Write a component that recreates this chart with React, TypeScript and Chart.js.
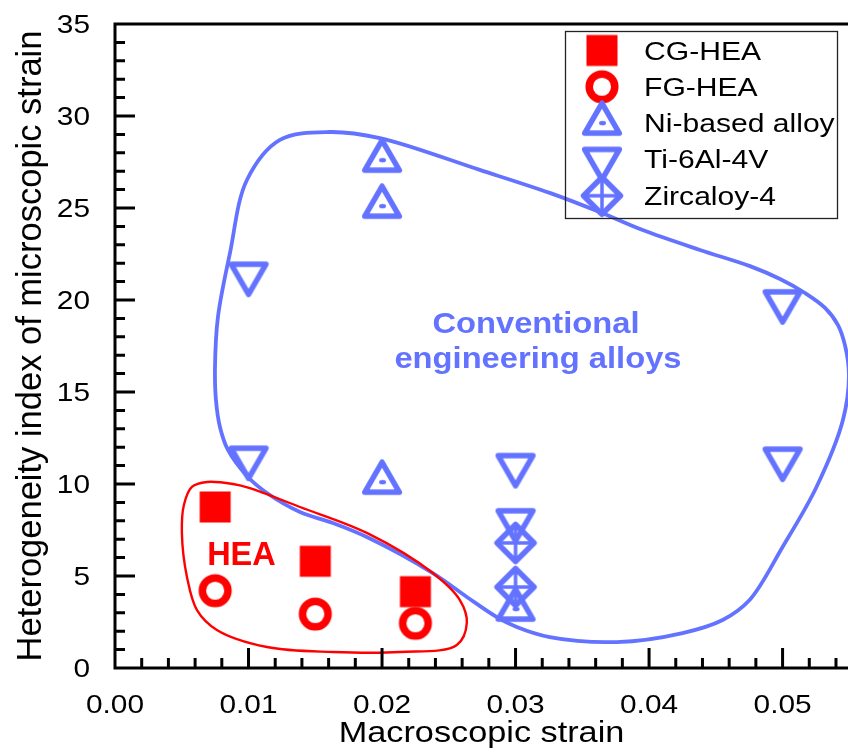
import React, { useEffect, useRef } from 'react';
import { Chart, registerables } from 'chart.js';

Chart.register(...registerables);

// ---------- data ----------
const seriesNames = ['CG-HEA', 'FG-HEA', 'Ni-based alloy', 'Ti-6Al-4V', 'Zircaloy-4'];

const cgX = [0.0075, 0.015, 0.0225];
const cgY = [8.75, 5.8, 4.15];

const fgX = [0.0075, 0.015, 0.0225];
const fgY = [4.2, 2.93, 2.43];

const niX = [0.02, 0.02, 0.02, 0.03];
const niY = [27.6, 25.1, 10.1, 3.2];

const tiX = [0.01, 0.01, 0.03, 0.03, 0.05, 0.05];
const tiY = [21.4, 11.4, 11.0, 8.0, 19.9, 11.35];

const zrX = [0.03, 0.03];
const zrY = [6.8, 4.4];

const xTickValues = [0, 0.01, 0.02, 0.03, 0.04, 0.05];
const xTickLabels = ['0.00', '0.01', '0.02', '0.03', '0.04', '0.05'];
const yTickValues = [0, 5, 10, 15, 20, 25, 30, 35];
const yTickLabels = ['0', '5', '10', '15', '20', '25', '30', '35'];
const xMinorStep = 0.002;
const yMinorStep = 1;

const xTitle = 'Macroscopic strain';
const yTitle = 'Heterogeneity index of microscopic strain';

// outlines of the two groups (data units)
const blueLoopX = [0.00996, 0.01138, 0.01385, 0.01632, 0.01886, 0.0238, 0.02635, 0.02859, 0.03009, 0.03256, 0.03757, 0.04251, 0.04551, 0.04753, 0.05, 0.05254, 0.05452, 0.05497, 0.05467, 0.05415, 0.05318, 0.05168, 0.04981, 0.04756, 0.04381, 0.03952, 0.0363, 0.03256, 0.02732, 0.01984, 0.01609, 0.01235, 0.00988, 0.00861, 0.00771, 0.00749, 0.00756, 0.00786, 0.00846];
const blueLoopY = [10.38, 9.51, 8.48, 7.88, 7.12, 5.16, 3.86, 2.77, 2.23, 1.68, 1.41, 1.9, 2.61, 3.7, 6.58, 9.84, 13.48, 15.92, 17.55, 18.64, 19.57, 20.38, 21.14, 21.84, 22.72, 23.8, 24.78, 25.82, 27.07, 28.8, 29.13, 28.7, 26.52, 22.55, 19.08, 16.36, 14.57, 13.1, 11.85];

const redLoopX = [0.00689, 0.00883, 0.0101, 0.01385, 0.01886, 0.0238, 0.02582, 0.02635, 0.0256, 0.02133, 0.01632, 0.01138, 0.00763, 0.00614, 0.00539, 0.00501, 0.00516, 0.00576];
const redLoopY = [10.11, 10.0, 9.78, 8.75, 7.34, 5.16, 3.7, 2.45, 1.25, 0.87, 0.87, 1.14, 2.07, 3.15, 4.95, 7.34, 8.86, 9.84];

const groupLabels = ['Conventional', 'engineering alloys', 'HEA'];
const groupLabelX = [0.03153, 0.03168, 0.00947];
const groupLabelY = [18.21, 16.29, 5.6];

// ---------- styles ----------
const RED = '#ff0000';
const BLUE = 'rgb(99,115,255)';
const FONT = '"Liberation Sans", Arial, Helvetica, sans-serif';

function makeMarker(draw: (ctx: CanvasRenderingContext2D) => void): HTMLCanvasElement {
  const c = document.createElement('canvas');
  c.width = 50;
  c.height = 50;
  const ctx = c.getContext('2d') as CanvasRenderingContext2D;
  ctx.translate(25, 25);
  draw(ctx);
  return c;
}

function triPath(ctx: CanvasRenderingContext2D, r: number, down: boolean) {
  const s = down ? -1 : 1;
  const w = r * Math.sin(Math.PI / 3);
  ctx.beginPath();
  ctx.moveTo(0, -r * s);
  ctx.lineTo(w, (r / 2) * s);
  ctx.lineTo(-w, (r / 2) * s);
  ctx.closePath();
}

function buildMarkers() {
  const square = makeMarker((ctx) => {
    ctx.fillStyle = RED;
    ctx.fillRect(-15.5, -15.5, 31, 31);
  });
  const circle = makeMarker((ctx) => {
    ctx.strokeStyle = RED;
    ctx.lineWidth = 7.5;
    ctx.beginPath();
    ctx.arc(0, 0, 12.8, 0, Math.PI * 2);
    ctx.stroke();
  });
  const triUp = makeMarker((ctx) => {
    ctx.strokeStyle = BLUE;
    ctx.fillStyle = BLUE;
    ctx.lineWidth = 5.5;
    ctx.lineJoin = 'round';
    triPath(ctx, 20, false);
    ctx.stroke();
    ctx.beginPath();
    ctx.ellipse(0.5, 0, 3.5, 2.2, 0, 0, Math.PI * 2);
    ctx.fill();
  });
  const triDown = makeMarker((ctx) => {
    ctx.strokeStyle = BLUE;
    ctx.lineWidth = 5.5;
    ctx.lineJoin = 'round';
    triPath(ctx, 20, true);
    ctx.stroke();
  });
  const diamond = makeMarker((ctx) => {
    const d = 18.5;
    ctx.strokeStyle = BLUE;
    ctx.lineJoin = 'round';
    ctx.lineWidth = 5.5;
    ctx.beginPath();
    ctx.moveTo(0, -d);
    ctx.lineTo(d, 0);
    ctx.lineTo(0, d);
    ctx.lineTo(-d, 0);
    ctx.closePath();
    ctx.stroke();
    ctx.lineWidth = 3.5;
    ctx.beginPath();
    ctx.moveTo(0, -d);
    ctx.lineTo(0, d);
    ctx.moveTo(-d, 0);
    ctx.lineTo(d, 0);
    ctx.stroke();
  });
  return [square, circle, triUp, triDown, diamond];
}

function pts(xs: number[], ys: number[]) {
  return xs.map((x, i) => ({ x, y: ys[i] }));
}

function drawText(
  ctx: CanvasRenderingContext2D,
  text: string,
  x: number,
  y: number,
  size: number,
  opts: { align?: CanvasTextAlign; sx?: number; bold?: boolean; color?: string } = {}
) {
  ctx.save();
  ctx.translate(x, y);
  ctx.scale(opts.sx ?? 1, 1);
  ctx.font = `${opts.bold ? 'bold ' : ''}${size}px ${FONT}`;
  ctx.fillStyle = opts.color ?? '#000';
  ctx.textAlign = opts.align ?? 'left';
  ctx.textBaseline = 'alphabetic';
  ctx.fillText(text, 0, 0);
  ctx.restore();
}

type P = { x: number; y: number };

// closed centripetal Catmull-Rom spline through the outline points
function drawLoop(ctx: CanvasRenderingContext2D, p: P[], color: string, width: number) {
  const n = p.length;
  const dist = (a: P, b: P) => Math.max(1e-6, Math.sqrt(Math.hypot(b.x - a.x, b.y - a.y)));
  ctx.save();
  ctx.strokeStyle = color;
  ctx.lineWidth = width;
  ctx.lineJoin = 'round';
  ctx.beginPath();
  ctx.moveTo(p[0].x, p[0].y);
  for (let i = 0; i < n; i++) {
    const p0 = p[(i - 1 + n) % n];
    const p1 = p[i];
    const p2 = p[(i + 1) % n];
    const p3 = p[(i + 2) % n];
    const d1 = dist(p0, p1);
    const d2 = dist(p1, p2);
    const d3 = dist(p2, p3);
    const a1 = 2 * d1 * d1 + 3 * d1 * d2 + d2 * d2;
    const b1 = 3 * d1 * (d1 + d2);
    const a2 = 2 * d3 * d3 + 3 * d3 * d2 + d2 * d2;
    const b2 = 3 * d3 * (d3 + d2);
    const c1x = (d1 * d1 * p2.x - d2 * d2 * p0.x + a1 * p1.x) / b1;
    const c1y = (d1 * d1 * p2.y - d2 * d2 * p0.y + a1 * p1.y) / b1;
    const c2x = (d3 * d3 * p1.x - d2 * d2 * p3.x + a2 * p2.x) / b2;
    const c2y = (d3 * d3 * p1.y - d2 * d2 * p3.y + a2 * p2.y) / b2;
    ctx.bezierCurveTo(c1x, c1y, c2x, c2y, p2.x, p2.y);
  }
  ctx.closePath();
  ctx.stroke();
  ctx.restore();
}

export default function App() {
  const ref = useRef<HTMLCanvasElement | null>(null);

  useEffect(() => {
    const canvas = ref.current;
    if (!canvas) return;
    const markers = buildMarkers();
    const seriesX = [cgX, fgX, niX, tiX, zrX];
    const seriesY = [cgY, fgY, niY, tiY, zrY];
    const orders = [1, 1, 1, 1, 0];

    const decor = {
      id: 'decor',
      beforeDatasetsDraw(chart: any) {
        const ctx: CanvasRenderingContext2D = chart.ctx;
        const xs = chart.scales.x;
        const ys = chart.scales.y;
        const toPx = (lx: number[], ly: number[]) =>
          lx.map((v, i) => ({ x: xs.getPixelForValue(v), y: ys.getPixelForValue(ly[i]) }));
        drawLoop(ctx, toPx(blueLoopX, blueLoopY), BLUE, 3.8);
        drawLoop(ctx, toPx(redLoopX, redLoopY), RED, 2.4);
      },
      afterDatasetsDraw(chart: any) {
        const ctx: CanvasRenderingContext2D = chart.ctx;
        const xs = chart.scales.x;
        const ys = chart.scales.y;
        const a = chart.chartArea;
        ctx.save();
        ctx.strokeStyle = '#000';
        ctx.lineWidth = 3;
        ctx.lineCap = 'butt';
        // axes
        ctx.beginPath();
        ctx.moveTo(a.left, a.top - 1.5);
        ctx.lineTo(a.left, a.bottom + 1.5);
        ctx.moveTo(a.left - 1.5, a.bottom);
        ctx.lineTo(a.right, a.bottom);
        ctx.moveTo(a.left - 1.5, a.top);
        ctx.lineTo(a.right, a.top);
        ctx.stroke();
        // x ticks (inward)
        ctx.beginPath();
        const nx = Math.floor(xs.max / xMinorStep + 1e-6);
        for (let k = 1; k <= nx; k++) {
          const px = xs.getPixelForValue(k * xMinorStep);
          const len = k % 5 === 0 ? 20 : 10;
          ctx.moveTo(px, a.bottom);
          ctx.lineTo(px, a.bottom - len);
        }
        // y ticks (inward)
        const ny = Math.floor(ys.max / yMinorStep + 1e-6);
        for (let k = 1; k < ny; k++) {
          const py = ys.getPixelForValue(k * yMinorStep);
          const len = k % 5 === 0 ? 20 : 10;
          ctx.moveTo(a.left, py);
          ctx.lineTo(a.left + len, py);
        }
        ctx.stroke();
        ctx.restore();

        // tick labels
        xTickValues.forEach((v, i) => {
          drawText(ctx, xTickLabels[i], xs.getPixelForValue(v), a.bottom + 45, 25.5, { align: 'center', sx: 1.17 });
        });
        yTickValues.forEach((v, i) => {
          drawText(ctx, yTickLabels[i], a.left - 25, ys.getPixelForValue(v) + 9, 25.5, { align: 'right', sx: 1.17 });
        });
        // axis titles
        drawText(ctx, xTitle, (a.left + a.right) / 2, a.bottom + 74, 28.8, { align: 'center', sx: 1.19 });
        ctx.save();
        ctx.translate(40.7, (a.top + a.bottom) / 2);
        ctx.rotate(-Math.PI / 2);
        ctx.font = `34.5px ${FONT}`;
        ctx.fillStyle = '#000';
        ctx.textAlign = 'center';
        ctx.textBaseline = 'alphabetic';
        ctx.fillText(yTitle, 0, 0);
        ctx.restore();

        // group labels
        groupLabels.forEach((t, i) => {
          const isHea = i === 2;
          drawText(ctx, t, xs.getPixelForValue(groupLabelX[i]), ys.getPixelForValue(groupLabelY[i]), isHea ? 32.5 : 30, {
            align: 'center',
            sx: isHea ? 1.0 : 1.09,
            bold: true,
            color: isHea ? RED : BLUE,
          });
        });

        // legend
        const lx = 565;
        const ly = 31;
        const lw = 272;
        const lh = 187;
        ctx.save();
        ctx.strokeStyle = '#222';
        ctx.lineWidth = 1.3;
        ctx.strokeRect(lx + 0.5, ly + 0.5, lw, lh);
        ctx.restore();
        chart.data.datasets.forEach((ds: any, i: number) => {
          const cy = 50.5 + 36.3 * i;
          ctx.drawImage(ds.pointStyle, 602 - 25, cy - 25);
          drawText(ctx, ds.label, 644, cy + 9, 25.5, { sx: 1.18 });
        });
      },
    };

    const chart = new Chart(canvas, {
      type: 'scatter',
      data: {
        datasets: seriesNames.map((name, i) => ({
          label: name,
          data: pts(seriesX[i], seriesY[i]),
          pointStyle: markers[i],
          pointRadius: 16,
          order: orders[i],
          showLine: false,
          clip: false,
        })),
      },
      options: {
        responsive: false,
        animation: false,
        events: [],
        layout: { autoPadding: false, padding: { left: 115, right: 0, top: 24, bottom: 84 } },
        plugins: { legend: { display: false }, tooltip: { enabled: false } },
        scales: {
          x: { type: 'linear', min: 0, max: 0.0549, display: false },
          y: { type: 'linear', min: 0, max: 35, display: false },
        },
      },
      plugins: [decor as any],
    } as any);

    return () => chart.destroy();
  }, []);

  return (
    <canvas
      ref={ref}
      width={848}
      height={752}
      style={{ position: 'absolute', left: 0, top: 0, display: 'block' }}
    />
  );
}
